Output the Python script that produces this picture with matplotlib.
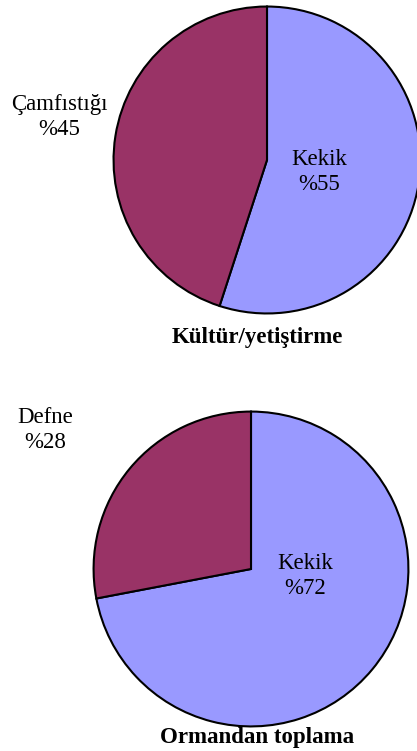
import matplotlib
matplotlib.use("Agg")
import matplotlib.pyplot as plt

plt.rcParams['font.family'] = ['Liberation Serif', 'DejaVu Serif']

blue = "#9999FF"
maroon = "#993366"

# data
top_labels = ["Kekik", "Çamfıstığı"]
top_values = [55, 45]
top_title = "Kültür/yetiştirme"

bot_labels = ["Kekik", "Defne"]
bot_values = [72, 28]
bot_title = "Ormandan toplama"

W, H = 417, 751
fig = plt.figure(figsize=(W / 100, H / 100), dpi=100)


def px_axes(cx, cy, r):
    # square axes in pixel units, y measured from top
    return fig.add_axes([(cx - r) / W, 1 - (cy + r) / H, 2 * r / W, 2 * r / H])


def draw_pie(ax, values):
    ax.pie(values, colors=[blue, maroon], startangle=90, counterclock=False,
           radius=1.0,
           wedgeprops=dict(edgecolor="black", linewidth=1.5))
    ax.set_xlim(-1.01, 1.01)
    ax.set_ylim(-1.01, 1.01)
    ax.set_aspect("equal")
    ax.axis("off")
    for p in ax.patches:
        p.set_clip_on(False)


def ftext(x, y, s, size=16.5, **kw):
    fig.text(x / W, 1 - y / H, s, ha="center", va="center", fontsize=size,
             linespacing=1.2, **kw)


ax1 = px_axes(267, 160, 155)
draw_pie(ax1, top_values)
ftext(319, 172, "%s\n%%%d" % (top_labels[0], top_values[0]))
ftext(59, 117, "%s\n%%%d" % (top_labels[1], top_values[1]))
ftext(257, 338, top_title, size=16.5, fontweight="bold")

ax2 = px_axes(251, 569, 159)
draw_pie(ax2, bot_values)
ftext(305, 576, "%s\n%%%d" % (bot_labels[0], bot_values[0]))
ftext(45, 430, "%s\n%%%d" % (bot_labels[1], bot_values[1]))
ftext(257, 737, bot_title, size=16.5, fontweight="bold")

fig.savefig("out.png", dpi=100)
